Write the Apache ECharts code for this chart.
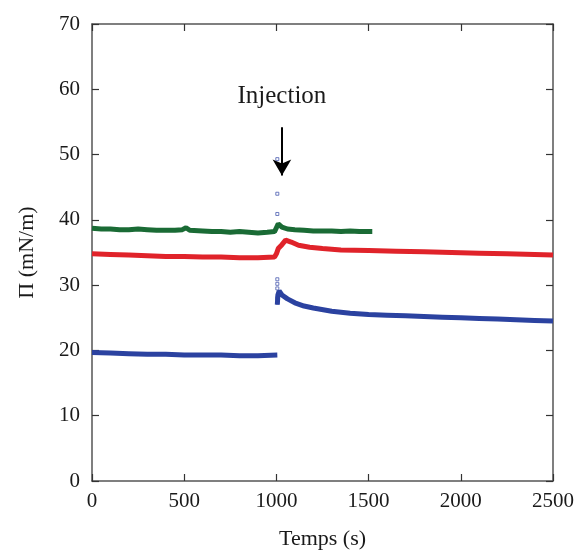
<!DOCTYPE html>
<html><head><meta charset="utf-8">
<script src="https://cdn.jsdelivr.net/npm/echarts@6/dist/echarts.min.js"></script>
<style>html,body{margin:0;padding:0;background:#fff}#c{width:577px;height:555px}</style>
</head><body><div id="c"></div>
<script>
// Time (s) and surface pressure (mN/m)
var greenT = [0,50,100,150,200,250,300,350,400,450,490,510,530,600,650,700,750,800,850,900,950,990,1000,1010,1030,1060,1100,1150,1200,1250,1300,1350,1400,1450,1520];
var greenV = [38.7,38.6,38.6,38.5,38.5,38.6,38.5,38.4,38.4,38.4,38.5,38.8,38.4,38.3,38.2,38.2,38.1,38.2,38.1,38.0,38.1,38.2,38.8,39.4,38.9,38.6,38.5,38.4,38.3,38.3,38.3,38.2,38.3,38.2,38.2];

var redT = [0,100,200,300,400,500,600,700,800,900,990,1000,1010,1030,1050,1080,1120,1180,1250,1350,1500,1650,1800,1950,2100,2250,2400,2500];
var redV = [34.8,34.7,34.6,34.5,34.4,34.4,34.3,34.3,34.2,34.2,34.3,34.8,35.6,36.2,36.9,36.6,36.1,35.8,35.6,35.4,35.3,35.2,35.1,35.0,34.9,34.8,34.7,34.6];

var blueBeforeT = [0,100,200,300,400,500,600,700,800,900,1005];
var blueBeforeV = [19.7,19.6,19.5,19.4,19.4,19.3,19.3,19.3,19.2,19.2,19.3];
var blueAfterT = [1005,1008,1015,1030,1060,1100,1150,1200,1300,1400,1500,1600,1700,1800,1900,2000,2100,2200,2300,2400,2500];
var blueAfterV = [27.0,28.5,29.1,28.5,27.9,27.3,26.8,26.5,26.0,25.7,25.5,25.4,25.3,25.2,25.1,25.0,24.9,24.8,24.7,24.6,24.5];
var blueDotsT = [1005,1005,1005,1005,1005,1005,1005,1005];
var blueDotsV = [49.3,44.0,40.9,30.9,30.2,29.5,28.0,27.3];

var xTicks = [0,500,1000,1500,2000,2500];
var yTicks = [0,10,20,30,40,50,60,70];
var injectionT = 1030, arrowTop = 54.2, arrowBottom = 46.8;

function zip(a,b){return a.map(function(v,i){return [v,b[i]];});}

var font = 'Liberation Serif';
var axisCol = '#555';
var txt = '#1a1a1a';
var tick = {show:true,inside:true,length:7,lineStyle:{color:'#333',width:1.2}};
var chart = echarts.init(document.getElementById('c'));
chart.setOption({
  animation:false,
  backgroundColor:'#fff',
  grid:{left:92,right:24,top:24,bottom:70},
  xAxis:[{
    type:'value',min:xTicks[0],max:xTicks[xTicks.length-1],interval:500,
    name:'Temps (s)',nameLocation:'middle',nameGap:47,
    nameTextStyle:{fontFamily:font,fontSize:22,color:txt},
    axisLine:{onZero:false,lineStyle:{color:axisCol,width:1.5}},
    axisTick:tick,
    axisLabel:{fontFamily:font,fontSize:21,color:txt,margin:10,formatter:function(v){return String(v);}},
    splitLine:{show:false}
  },{
    type:'value',position:'top',min:xTicks[0],max:xTicks[xTicks.length-1],interval:500,
    axisLine:{show:true,onZero:false,lineStyle:{color:axisCol,width:1.5}},
    axisTick:tick,
    axisLabel:{show:false},splitLine:{show:false}
  }],
  yAxis:[{
    type:'value',min:yTicks[0],max:yTicks[yTicks.length-1],interval:10,
    name:'\u03A0 (mN/m)',nameLocation:'middle',nameGap:54,nameRotate:90,
    nameTextStyle:{fontFamily:font,fontSize:22,color:txt},
    axisLine:{show:true,onZero:false,lineStyle:{color:axisCol,width:1.5}},
    axisTick:tick,
    axisLabel:{fontFamily:font,fontSize:21,color:txt,margin:12},
    splitLine:{show:false}
  },{
    type:'value',position:'right',min:yTicks[0],max:yTicks[yTicks.length-1],interval:10,
    axisLine:{show:true,onZero:false,lineStyle:{color:axisCol,width:1.5}},
    axisTick:tick,
    axisLabel:{show:false},splitLine:{show:false}
  }],
  series:[
    {type:'line',data:zip(greenT,greenV),showSymbol:false,symbol:'none',lineStyle:{color:'#1a6b35',width:5},
     markLine:{silent:true,symbol:['none','arrow'],symbolSize:[14,16],
       lineStyle:{color:'#000',width:2,type:'solid'},
       label:{show:true,position:'start',formatter:'Injection',fontFamily:font,fontSize:25,color:txt,distance:18},
       data:[[{coord:[injectionT,arrowTop]},{coord:[injectionT,arrowBottom]}]]}},
    {type:'line',data:zip(redT,redV),showSymbol:false,symbol:'none',lineStyle:{color:'#e0232a',width:5}},
    {type:'line',data:zip(blueBeforeT,blueBeforeV),showSymbol:false,symbol:'none',lineStyle:{color:'#2b42a0',width:5}},
    {type:'line',data:zip(blueAfterT,blueAfterV),showSymbol:false,symbol:'none',lineStyle:{color:'#2b42a0',width:5}},
    {type:'scatter',data:zip(blueDotsT,blueDotsV),symbol:'rect',symbolSize:3,
     itemStyle:{color:'#fff',borderColor:'#4a5bb0',borderWidth:1}}
  ]
});
</script></body></html>
